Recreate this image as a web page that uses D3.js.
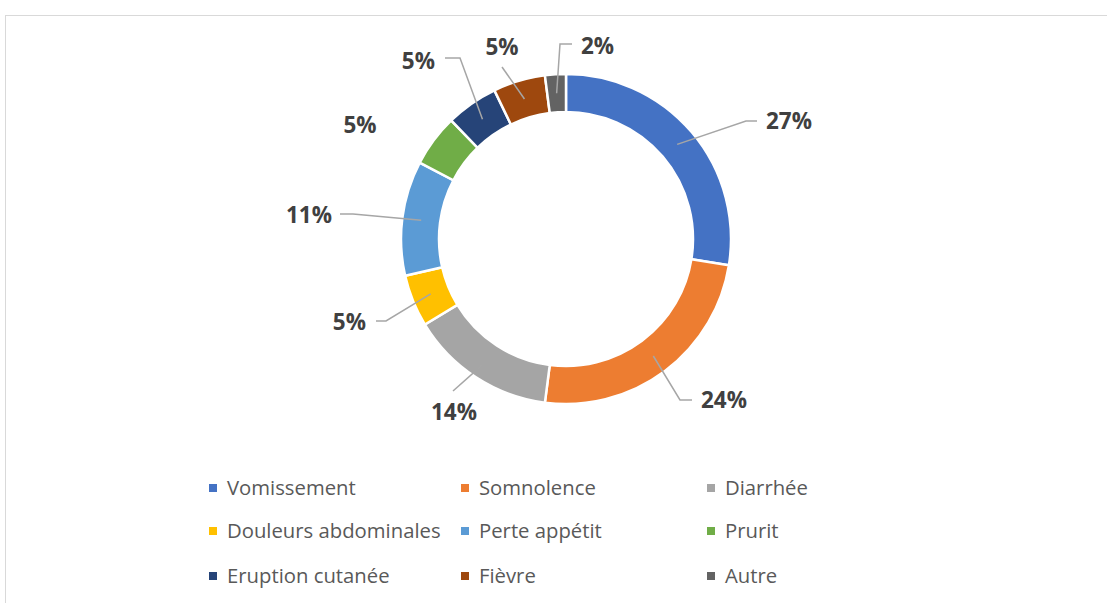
<!DOCTYPE html>
<html><head><meta charset="utf-8">
<script src="https://cdn.jsdelivr.net/npm/d3@7"></script>
<style>body{margin:0;background:#fff}svg{display:block}</style>
</head><body>
<svg id="c" width="1107" height="603"></svg>
<script>
const categories = ["Vomissement","Somnolence","Diarrhée","Douleurs abdominales","Perte appétit","Prurit","Eruption cutanée","Fièvre","Autre"];
const values = [27,24,14,5,11,5,5,5,2];
const labels = ["27%","24%","14%","5%","11%","5%","5%","5%","2%"];
const colors = ["#4472C4","#ED7D31","#A5A5A5","#FFC000","#5B9BD5","#70AD47","#264478","#9E480E","#636363"];
// label layout relative to the donut centre: text x, anchor, leader elbow points, text y
const labelLayout = [
  {tx:200, anchor:"start",  pts:[[180,-118],[191,-118]], ly:-118},
  {tx:134, anchor:"start",  pts:[[114,161],[126,161]], ly:161},
  {tx:-112,anchor:"middle", pts:[[-113,152]], ly:173},
  {tx:-200,anchor:"end",    pts:[[-180,82],[-190,82]], ly:83},
  {tx:-234,anchor:"end",    pts:[[-213,-25],[-226,-25]], ly:-24},
  {tx:-206,anchor:"middle", pts:null, ly:-114},
  {tx:-131,anchor:"end",    pts:[[-106,-181],[-121,-181]], ly:-178},
  {tx:-64, anchor:"middle", pts:[[-64,-172]], ly:-192},
  {tx:17,  anchor:"start",  pts:[[-6,-195],[6,-195]], ly:-193}
];

const svg = d3.select("#c");
svg.append("rect").attr("x",5.5).attr("y",15.5).attr("width",1200).attr("height",700)
  .attr("fill","#fff").attr("stroke","#D9D9D9").attr("stroke-width",1);

const cx = 566, cy = 239, rOut = 165, rIn = 127;
const g = svg.append("g").attr("transform",`translate(${cx},${cy})`);
const pie = d3.pie().value(d=>d).sort(null);
const arcs = pie(values);
const arc = d3.arc().innerRadius(rIn).outerRadius(rOut);
const mid = d3.arc().innerRadius(146).outerRadius(146);

g.selectAll("path.s").data(arcs).join("path").attr("class","s")
  .attr("d",arc).attr("fill",(d,i)=>colors[i])
  .attr("stroke","#fff").attr("stroke-width",2.5).attr("stroke-linejoin","miter");

arcs.forEach((a,i)=>{
  const L = labelLayout[i];
  if(!L.pts) return;
  const c = mid.centroid(a);
  g.append("path").attr("d",d3.line()([c].concat(L.pts))).attr("fill","none")
    .attr("stroke","#A6A6A6").attr("stroke-width",1.5);
});
arcs.forEach((a,i)=>{
  const L = labelLayout[i];
  const x = L.anchor==="start" ? L.pts[L.pts.length-1][0]+9 : L.tx;
  g.append("text").attr("x", x).attr("y", L.ly).attr("dy","0.36em")
    .attr("text-anchor", L.anchor)
    .attr("font-family","'Open Sans', sans-serif").attr("font-weight",700)
    .attr("font-size",22.5).attr("fill","#404040").text(labels[i]);
});

// legend
const colX = [209, 461, 707], rowY = [488, 531, 576];
const lg = svg.append("g");
categories.forEach((c,i)=>{
  const x = colX[i%3], y = rowY[Math.floor(i/3)];
  lg.append("rect").attr("x",x).attr("y",y-4).attr("width",8).attr("height",8).attr("fill",colors[i]);
  lg.append("text").attr("x",x+18).attr("y",y).attr("dy","0.36em")
    .attr("font-family","'Open Sans', sans-serif").attr("font-size",20.3).attr("fill","#595959").text(c);
});
</script>
</body></html>
